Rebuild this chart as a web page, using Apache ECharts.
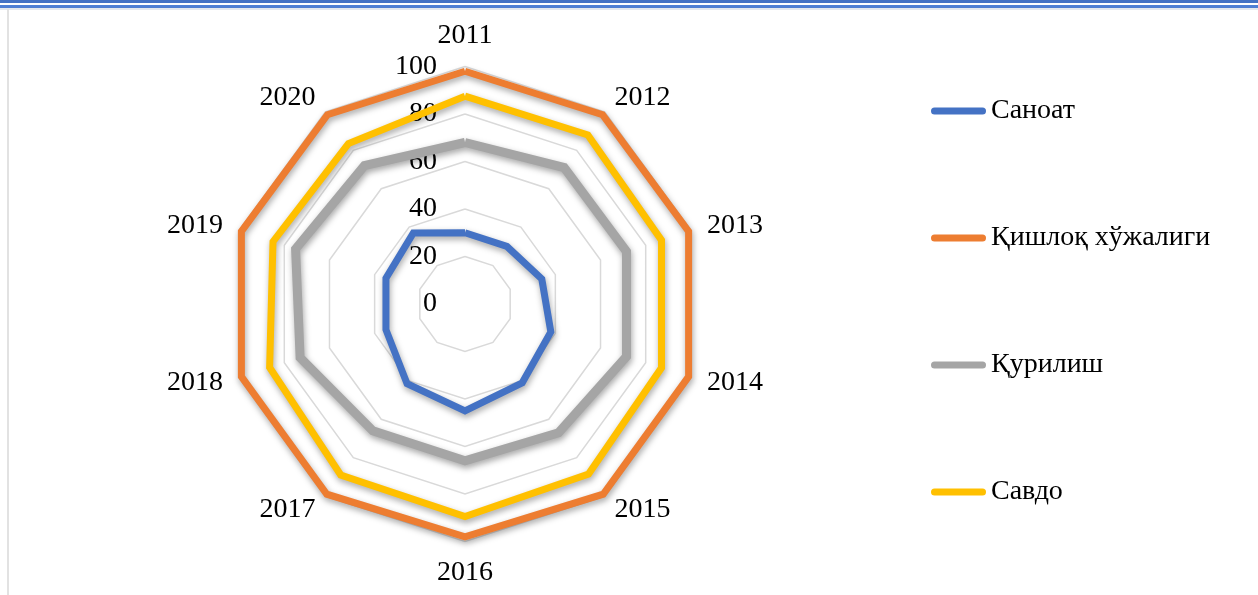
<!DOCTYPE html>
<html>
<head>
<meta charset="utf-8">
<script src="https://cdn.jsdelivr.net/npm/echarts@6/dist/echarts.min.js"></script>
<style>
  html, body { margin: 0; padding: 0; background: #fff; }
  #wrap { position: relative; width: 1258px; height: 595px; overflow: hidden; }
  #bar1 { position: absolute; left: 0; top: 0; width: 1258px; height: 3px; background: #4472C4; }
  #bar2 { position: absolute; left: 0; top: 5px; width: 1258px; height: 3px; background: #4F7FD4; }
  #bar3 { position: absolute; left: 0; top: 8px; width: 1258px; height: 2px; background: #E4E8EE; }
  #vline { position: absolute; left: 7px; top: 9px; width: 2px; height: 586px; background: #E2E2E2; }
  #chart { position: absolute; left: 0; top: 0; width: 1258px; height: 595px; }
</style>
</head>
<body>
<div id="wrap">
  <div id="chart"></div>
  <div id="bar1"></div>
  <div id="bar2"></div>
  <div id="bar3"></div>
  <div id="vline"></div>
</div>
<script>
// Data (clockwise from top, as in the reference)
const years = ['2011', '2012', '2013', '2014', '2015', '2016', '2017', '2018', '2019', '2020'];
const seriesNames = ['Саноат', 'Қишлоқ хўжалиги', 'Қурилиш', 'Савдо'];
const sanoat    = [30, 30, 34, 38, 41, 45, 41.5, 35, 35, 37];
const qishloq   = [98, 98.5, 99, 99, 99, 98, 99, 99, 99, 98.5];
const qurilish  = [68, 71, 71.5, 71.5, 67, 66, 66, 73, 75, 72];
const savdo     = [87.5, 88, 87, 87, 88.5, 89.5, 89, 86.5, 85, 83.5];
const colors = ['#4472C4', '#ED7D31', '#A5A5A5', '#FFC000'];
const axisMax = 100;

// ECharts lays radar indicators counter-clockwise; reorder so that they run clockwise.
const order = [0].concat(years.map((_, i) => i).slice(1).reverse());
const reorder = arr => order.map(i => arr[i]);

const font = 'Liberation Serif';
const indicators = reorder(years).map((y, i) => {
  const ind = { name: y, min: 0, max: axisMax };
  if (i === 0) ind.axisLabel = { show: true };
  return ind;
});

const allValues = [sanoat, qishloq, qurilish, savdo];
const series = [{
  type: 'radar',
  symbol: 'none',
  data: allValues.map((vals, k) => ({
    name: seriesNames[k],
    value: reorder(vals),
    lineStyle: {
      color: colors[k],
      width: k === 2 ? 9 : 7,
      join: 'miter',
      shadowBlur: 6,
      shadowColor: 'rgba(0,0,0,0.35)',
      shadowOffsetX: 1,
      shadowOffsetY: 3
    },
    itemStyle: { color: colors[k] }
  }))
}];

const chart = echarts.init(document.getElementById('chart'), null, { renderer: 'canvas' });
chart.setOption({
  animation: false,
  color: colors,
  textStyle: { fontFamily: font },
  legend: {
    orient: 'vertical',
    left: 926,
    top: 90,
    itemWidth: 55,
    itemHeight: 7,
    itemGap: 95,
    icon: 'path://M3.5,0 L51.5,0 A3.5,3.5 0 0 1 51.5,7 L3.5,7 A3.5,3.5 0 0 1 3.5,0 Z',
    textStyle: { fontFamily: font, fontSize: 28, color: '#000', lineHeight: 32 },
    itemStyle: { borderWidth: 0 },
    data: seriesNames
  },
  radar: {
    center: [465, 304],
    radius: 237.5,
    startAngle: 90,
    splitNumber: 5,
    shape: 'polygon',
    indicator: indicators,
    axisName: { color: '#000', fontFamily: font, fontSize: 28 },
    nameGap: 17,
    axisLine: { show: false },
    axisTick: { show: false },
    axisLabel: { show: false, color: '#000', fontFamily: font, fontSize: 28, margin: 28 },
    splitLine: { lineStyle: { color: '#D9D9D9', width: 1.5 } },
    splitArea: { show: false }
  },
  series: series
});
</script>
</body>
</html>
